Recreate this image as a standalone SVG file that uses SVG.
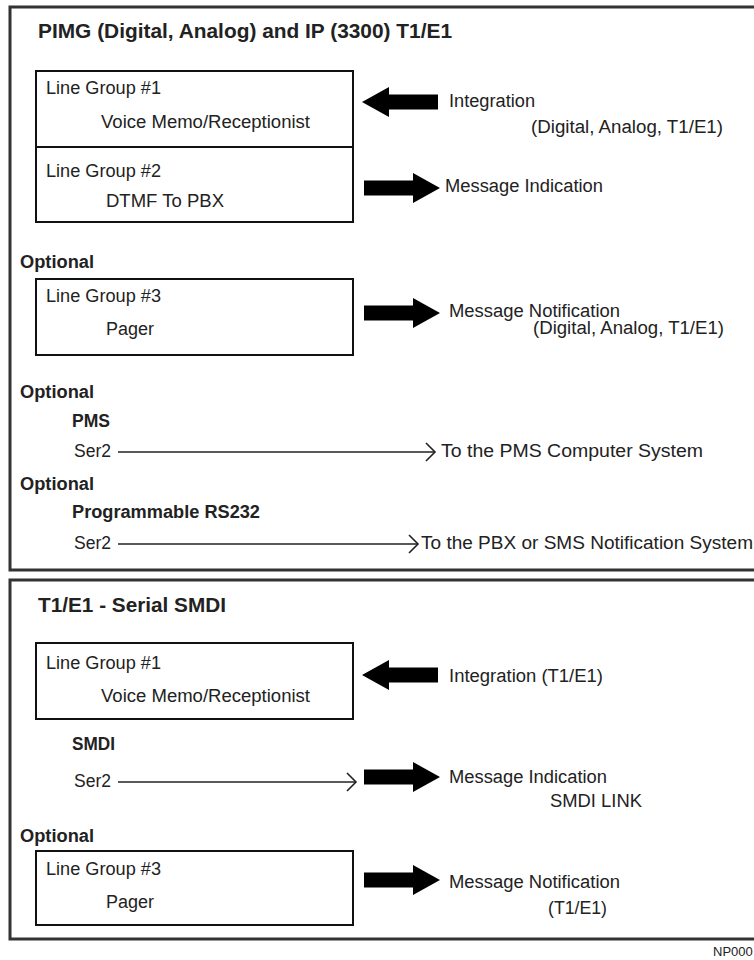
<svg xmlns="http://www.w3.org/2000/svg" xmlns:xlink="http://www.w3.org/1999/xlink" width="754" height="960" viewBox="0 0 754 960">
<style>
text{font-family:"Liberation Sans",Arial,sans-serif;fill:#222}
.t{font-size:18px}
.b{font-size:18px;font-weight:bold}
.h{font-size:20.5px;font-weight:bold}
.s{font-size:13px}
.panel{fill:none;stroke:#333;stroke-width:3}
.box{fill:none;stroke:#111;stroke-width:2}
.ln{fill:none;stroke:#222;stroke-width:1.6}
.fat{fill:#000}
</style>
<defs>
<path id="fatR" class="fat" d="M0,-7.5 H49 V-15 L76,0 L49,15 V7.5 H0 Z"/>
<marker id="chev" markerWidth="12" markerHeight="20" refX="10" refY="10" orient="auto" markerUnits="userSpaceOnUse">
<path d="M1,1 L10,10 L1,19" fill="none" stroke="#222" stroke-width="1.6"/>
</marker>
</defs>
<rect width="754" height="960" fill="#fff"/>

<g id="panel1">
<rect class="panel" x="10" y="7" width="760" height="563"/>
<text class="h" x="38" y="38" textLength="414" lengthAdjust="spacingAndGlyphs">PIMG (Digital, Analog) and IP (3300) T1/E1</text>
</g>

<g id="lg1">
<rect class="box" x="36" y="71" width="317" height="76"/>
<text class="t" x="46" y="94" textLength="115" lengthAdjust="spacingAndGlyphs">Line Group #1</text>
<text class="t" x="101" y="128" textLength="209" lengthAdjust="spacingAndGlyphs">Voice Memo/Receptionist</text>
</g>
<g id="lg2">
<rect class="box" x="36" y="147" width="317" height="75"/>
<text class="t" x="46" y="177" textLength="115" lengthAdjust="spacingAndGlyphs">Line Group #2</text>
<text class="t" x="106" y="207" textLength="118" lengthAdjust="spacingAndGlyphs">DTMF To PBX</text>
</g>
<g id="integration1">
<text class="t" x="449" y="107" textLength="86" lengthAdjust="spacingAndGlyphs">Integration</text>
<text class="t" x="531" y="133" textLength="192" lengthAdjust="spacingAndGlyphs">(Digital, Analog, T1/E1)</text>
</g>
<g id="msgind1">
<text class="t" x="445" y="192" textLength="158" lengthAdjust="spacingAndGlyphs">Message Indication</text>
</g>

<g id="lg3">
<text class="b" x="20" y="268" textLength="74" lengthAdjust="spacingAndGlyphs">Optional</text>
<rect class="box" x="36" y="279" width="317" height="76"/>
<text class="t" x="46" y="302" textLength="115" lengthAdjust="spacingAndGlyphs">Line Group #3</text>
<text class="t" x="106" y="335" textLength="48" lengthAdjust="spacingAndGlyphs">Pager</text>
</g>
<g id="msgnot1">
<text class="t" x="449" y="317" textLength="171" lengthAdjust="spacingAndGlyphs">Message Notification</text>
<text class="t" x="533" y="334" textLength="191" lengthAdjust="spacingAndGlyphs">(Digital, Analog, T1/E1)</text>
</g>

<g id="pms">
<text class="b" x="20" y="398" textLength="74" lengthAdjust="spacingAndGlyphs">Optional</text>
<text class="b" x="72" y="427" textLength="38" lengthAdjust="spacingAndGlyphs">PMS</text>
<text class="t" x="74" y="457" textLength="37" lengthAdjust="spacingAndGlyphs">Ser2</text>
</g>
<g id="pmsdest">
<text class="t" x="441" y="457" textLength="262" lengthAdjust="spacingAndGlyphs">To the PMS Computer System</text>
</g>

<g id="rs232">
<text class="b" x="20" y="490" textLength="74" lengthAdjust="spacingAndGlyphs">Optional</text>
<text class="b" x="72" y="518" textLength="188" lengthAdjust="spacingAndGlyphs">Programmable RS232</text>
<text class="t" x="74" y="549" textLength="37" lengthAdjust="spacingAndGlyphs">Ser2</text>
</g>
<g id="rs232dest">
<text class="t" x="421" y="549" textLength="332" lengthAdjust="spacingAndGlyphs">To the PBX or SMS Notification System</text>
</g>

<g id="panel2">
<rect class="panel" x="10" y="580" width="760" height="359"/>
<text class="h" x="38" y="612" textLength="188" lengthAdjust="spacingAndGlyphs">T1/E1 - Serial SMDI</text>
</g>

<g id="lg1b">
<rect class="box" x="36" y="643" width="317" height="76"/>
<text class="t" x="46" y="669" textLength="115" lengthAdjust="spacingAndGlyphs">Line Group #1</text>
<text class="t" x="101" y="702" textLength="209" lengthAdjust="spacingAndGlyphs">Voice Memo/Receptionist</text>
</g>
<g id="integration2">
<text class="t" x="449" y="682" textLength="154" lengthAdjust="spacingAndGlyphs">Integration (T1/E1)</text>
</g>

<g id="smdi">
<text class="b" x="72" y="750" textLength="43" lengthAdjust="spacingAndGlyphs">SMDI</text>
<text class="t" x="74" y="787" textLength="37" lengthAdjust="spacingAndGlyphs">Ser2</text>
</g>
<g id="msgind2">
<text class="t" x="449" y="783" textLength="158" lengthAdjust="spacingAndGlyphs">Message Indication</text>
<text class="t" x="550" y="807" textLength="92" lengthAdjust="spacingAndGlyphs">SMDI LINK</text>
</g>

<g id="lg3b">
<text class="b" x="20" y="842" textLength="74" lengthAdjust="spacingAndGlyphs">Optional</text>
<rect class="box" x="36" y="851" width="317" height="74"/>
<text class="t" x="46" y="875" textLength="115" lengthAdjust="spacingAndGlyphs">Line Group #3</text>
<text class="t" x="106" y="908" textLength="48" lengthAdjust="spacingAndGlyphs">Pager</text>
</g>
<g id="msgnot2">
<text class="t" x="449" y="888" textLength="171" lengthAdjust="spacingAndGlyphs">Message Notification</text>
<text class="t" x="548" y="914" textLength="59" lengthAdjust="spacingAndGlyphs">(T1/E1)</text>
</g>

<text class="s" x="713" y="956">NP000</text>

<g id="connectors">
<use xlink:href="#fatR" transform="translate(438,102) scale(-1,1)"/>
<use xlink:href="#fatR" transform="translate(364,188)"/>
<use xlink:href="#fatR" transform="translate(364,313)"/>
<line class="ln" x1="118" y1="452" x2="435" y2="452" marker-end="url(#chev)"/>
<line class="ln" x1="118" y1="544" x2="418" y2="544" marker-end="url(#chev)"/>
<use xlink:href="#fatR" transform="translate(438,675) scale(-1,1)"/>
<line class="ln" x1="118" y1="782" x2="356" y2="782" marker-end="url(#chev)"/>
<use xlink:href="#fatR" transform="translate(364,777)"/>
<use xlink:href="#fatR" transform="translate(364,880)"/>
</g>
</svg>
